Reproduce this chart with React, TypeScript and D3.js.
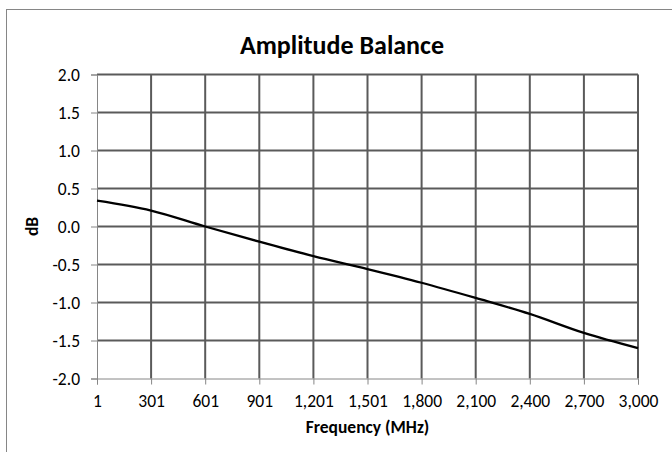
import React, { useEffect, useRef } from "react";
import * as d3 from "d3";

// frequencies shown on the category axis (MHz)
const freqLabels = ["1", "301", "601", "901", "1,201", "1,501", "1,800", "2,100", "2,400", "2,700", "3,000"];
// amplitude balance in dB at each frequency
const balanceDb = [0.34, 0.21, 0.0, -0.2, -0.39, -0.56, -0.74, -0.94, -1.15, -1.4, -1.6];
const yTicks = [-2, -1.5, -1, -0.5, 0, 0.5, 1, 1.5, 2];

const W = 672;
const H = 452;
const FONT = "Carlito, Lato, 'Open Sans', sans-serif";

export default function App() {
  const svgRef = useRef<SVGSVGElement>(null);

  useEffect(() => {
    if (!svgRef.current) return;
    const svg = d3.select(svgRef.current);
    svg.selectAll("*").remove();

    const left = 97;
    const right = 638;
    const top = 74.5;
    const bottom = 378.5;

    const x = d3.scalePoint<string>().domain(freqLabels).range([left, right]);
    const y = d3.scaleLinear().domain([-2, 2]).range([bottom, top]);

    // chart area border (runs off the right and bottom of the picture)
    svg.append("rect")
      .attr("x", 6.5)
      .attr("y", 9.5)
      .attr("width", W + 20)
      .attr("height", H + 20)
      .attr("fill", "white")
      .attr("stroke", "#868686")
      .attr("stroke-width", 1);

    // title
    svg.append("text")
      .attr("x", 342)
      .attr("y", 54)
      .attr("text-anchor", "middle")
      .style("font-family", FONT)
      .style("font-size", "26px")
      .style("font-weight", "bold")
      .style("fill", "#000")
      .text("Amplitude Balance");

    // grid
    const grid = svg.append("g");
    grid.selectAll("line.h")
      .data(yTicks.filter((d) => d !== -2))
      .join("line")
      .attr("class", "h")
      .attr("x1", left)
      .attr("x2", right)
      .attr("y1", (d) => y(d))
      .attr("y2", (d) => y(d))
      .attr("stroke", "#5a5a5a")
      .attr("stroke-width", 2);

    grid.selectAll("line.v")
      .data(freqLabels.slice(1))
      .join("line")
      .attr("class", "v")
      .attr("x1", (d) => x(d)!)
      .attr("x2", (d) => x(d)!)
      .attr("y1", top)
      .attr("y2", bottom)
      .attr("stroke", "#5a5a5a")
      .attr("stroke-width", 2);

    // axes
    const yAxis = svg.append("g")
      .attr("transform", `translate(${left},0)`)
      .call(
        d3.axisLeft(y)
          .tickValues(yTicks)
          .tickSize(6)
          .tickPadding(11)
          .tickFormat((d) => (d as number).toFixed(1)) // plain hyphen, like Excel
      );

    const xAxis = svg.append("g")
      .attr("transform", `translate(0,${bottom})`)
      .call(d3.axisBottom(x).tickSize(6).tickPadding(10.5));

    [yAxis, xAxis].forEach((ax) => {
      ax.select(".domain").attr("stroke", "#868686").attr("stroke-width", 1);
      ax.selectAll(".tick line").attr("stroke", "#868686");
      ax.selectAll("text")
        .style("font-family", FONT)
        .style("font-size", "17.5px")
        .style("fill", "#000");
    });

    // data line
    const line = d3.line<number>()
      .x((_, i) => x(freqLabels[i])!)
      .y((d) => y(d))
      .curve(d3.curveMonotoneX);

    svg.append("path")
      .datum(balanceDb)
      .attr("d", line)
      .attr("fill", "none")
      .attr("stroke", "#000")
      .attr("stroke-width", 2.25);

    // axis titles
    svg.append("text")
      .attr("x", (left + right) / 2)
      .attr("y", 433)
      .attr("text-anchor", "middle")
      .style("font-family", FONT)
      .style("font-size", "17.5px")
      .style("font-weight", "bold")
      .text("Frequency (MHz)");

    svg.append("text")
      .attr("transform", `translate(38,${y(0)}) rotate(-90)`)
      .attr("text-anchor", "middle")
      .style("font-family", FONT)
      .style("font-size", "17.5px")
      .style("font-weight", "bold")
      .text("dB");
  }, []);

  return (
    <svg
      ref={svgRef}
      width={W}
      height={H}
      style={{ position: "absolute", left: 0, top: 0, background: "white" }}
    />
  );
}
